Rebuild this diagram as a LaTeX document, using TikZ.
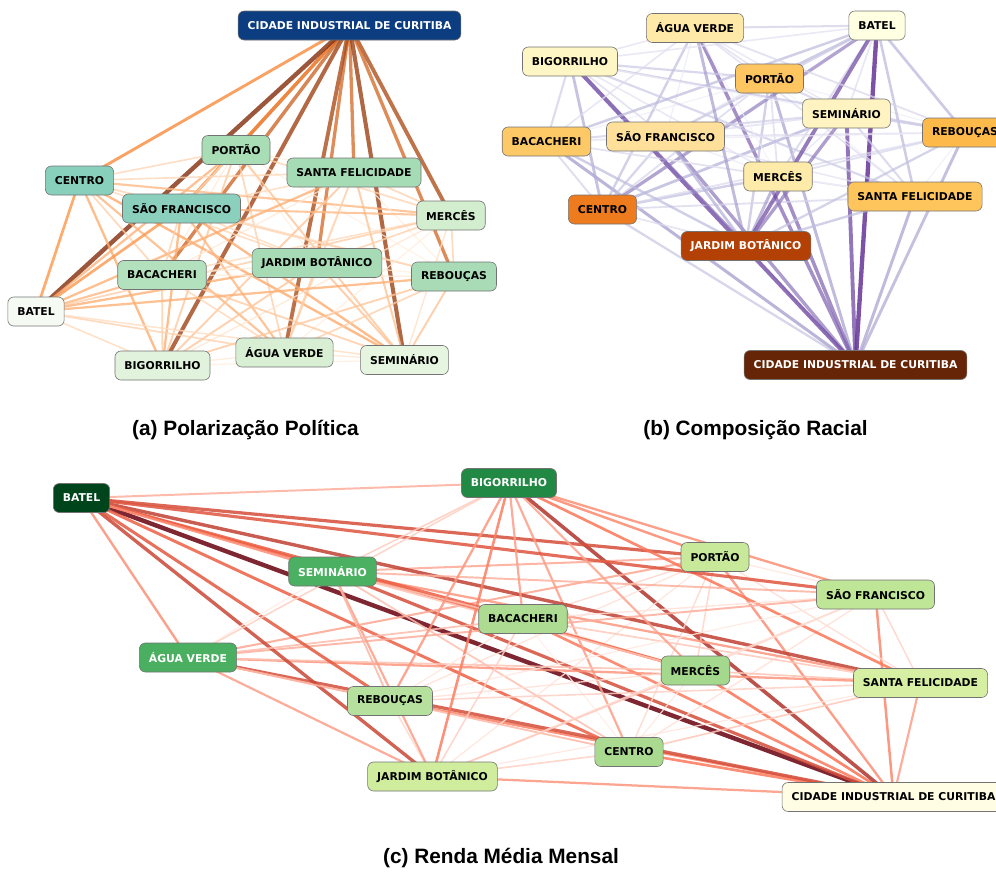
\documentclass[tikz,border=0pt]{standalone}
\usepackage{fontspec}
\setmainfont{DejaVu Sans}
\newfontfamily\titlefont{Liberation Sans}
\usetikzlibrary{backgrounds}
% edge colour maps (low, mid, high)
\definecolor{alow}{HTML}{FFF0E0}\definecolor{amid}{HTML}{FD8D3C}\definecolor{ahigh}{HTML}{7F2704}
\definecolor{blow}{HTML}{F2F0F8}\definecolor{bmid}{HTML}{B0AED6}\definecolor{bhigh}{HTML}{3F007D}
\definecolor{clow}{HTML}{FFEDE6}\definecolor{cmid}{HTML}{FB6A4A}\definecolor{chigh}{HTML}{67000D}
\tikzset{
  bairro/.style={draw=black!55, line width=0.6pt, rounded corners=6pt, minimum height=29pt,
    inner xsep=9.5pt, font=\fontsize{10.8}{12}\selectfont\bfseries},
  aresta/.style={line cap=round},
  legenda/.style={font=\titlefont\fontsize{20.8}{24}\selectfont\bfseries},
}
\newcommand{\arestas}[3]{%
  \foreach \i in {0,...,11}{%
    \pgfmathtruncatemacro\ii{\i+1}%
    \foreach \j in {\ii,...,12}{%
      \pgfmathsetmacro\d{abs(#2[\i]-#2[\j])}%
      \ifdim\d pt<0.5pt
        \pgfmathtruncatemacro\p{200*\d}\colorlet{ec}{#1mid!\p!#1low}%
      \else
        \pgfmathtruncatemacro\p{200*\d-100}\colorlet{ec}{#1high!\p!#1mid}%
      \fi
      \pgfmathsetmacro\w{1.2+3.2*\d}%
      \draw[aresta, draw=ec, draw opacity=#3, line width=\w pt] (#1\i.center) -- (#1\j.center);
    }}}
\begin{document}
\begin{tikzpicture}[x=1pt,y=-1pt]
\useasboundingbox (0,0) rectangle (996,871);

% (a) Polarizacao Politica
\foreach \k/\x/\y/\f/\tc/\txt in {
  0/349.5/25.5/0B3D80/white/CIDADE INDUSTRIAL DE CURITIBA,
  1/236/150/A9DDB6/black/PORTÃO,
  2/79.5/180.5/88CFBC/black/CENTRO,
  3/354/172.5/A5DBB5/black/SANTA FELICIDADE,
  4/181.5/208.5/8BD0BD/black/SÃO FRANCISCO,
  5/451/215.5/D3EECE/black/MERCÊS,
  6/317/263/A6DBB5/black/JARDIM BOTÂNICO,
  7/162/275/B3E1BD/black/BACACHERI,
  8/454/276.5/A9DCB6/black/REBOUÇAS,
  9/36/311.5/F5FBF2/black/BATEL,
  10/162.5/365.5/E1F3DD/black/BIGORRILHO,
  11/284.5/352.5/D8EFD3/black/ÁGUA VERDE,
  12/404.5/360/E5F5E0/black/SEMINÁRIO}{
  \definecolor{nf}{HTML}{\f}
  \node[bairro, fill=nf, text=\tc] (a\k) at (\x,\y) {\txt};
}
\begin{pgfonlayer}{background}
  \arestas{a}{{1.0,0.33,0.47,0.34,0.46,0.18,0.34,0.30,0.33,0.0,0.12,0.16,0.10}}{0.78}
\end{pgfonlayer}
\node[legenda] (tituloa) at (245.5,430) {(a) Polarização Política};

% (b) Composicao Racial
\foreach \k/\x/\y/\f/\tc/\txt in {
  0/855.5/365/662506/white/CIDADE INDUSTRIAL DE CURITIBA,
  1/769.5/78.5/FEC561/black/PORTÃO,
  2/602.5/209.5/EE7C1E/black/CENTRO,
  3/915/196.5/FEC55C/black/SANTA FELICIDADE,
  4/665.5/136.5/FEE09A/black/SÃO FRANCISCO,
  5/778/176.5/FEEAA9/black/MERCÊS,
  6/746/246/B34105/white/JARDIM BOTÂNICO,
  7/546.5/141.5/FDC967/black/BACACHERI,
  8/965/132.5/FDBA4A/black/REBOUÇAS,
  9/877/25.5/FFFFE2/black/BATEL,
  10/570/61.5/FFF6C5/black/BIGORRILHO,
  11/695/28/FEE9A8/black/ÁGUA VERDE,
  12/846.5/113.5/FFF4C1/black/SEMINÁRIO}{
  \definecolor{nf}{HTML}{\f}
  \node[bairro, fill=nf, text=\tc] (b\k) at (\x,\y) {\txt};
}
\begin{pgfonlayer}{background}
  \arestas{b}{{1.0,0.45,0.66,0.45,0.33,0.27,0.83,0.43,0.48,0.02,0.15,0.28,0.17}}{0.7}
\end{pgfonlayer}
\node[legenda] (titulob) at (755.5,430) {(b) Composição Racial};

% (c) Renda Media Mensal
\foreach \k/\x/\y/\f/\tc/\txt in {
  0/893.5/797/FFFDE4/black/CIDADE INDUSTRIAL DE CURITIBA,
  1/715/557/C8E99A/black/PORTÃO,
  2/629/752/A9DA8F/black/CENTRO,
  3/920.5/683/D6EFA2/black/SANTA FELICIDADE,
  4/875.5/594.5/BFE596/black/SÃO FRANCISCO,
  5/695.5/670.5/A4D88C/black/MERCÊS,
  6/432.5/776.5/D0ED9E/black/JARDIM BOTÂNICO,
  7/523/619/ACDB91/black/BACACHERI,
  8/390/701/B5E09D/black/REBOUÇAS,
  9/81.5/498/00441B/white/BATEL,
  10/509/483/218944/white/BIGORRILHO,
  11/188/657.5/4AAF61/white/ÁGUA VERDE,
  12/332.5/571.5/4BB062/white/SEMINÁRIO}{
  \definecolor{nf}{HTML}{\f}
  \node[bairro, fill=nf, text=\tc] (c\k) at (\x,\y) {\txt};
}
\begin{pgfonlayer}{background}
  \arestas{c}{{0.0,0.37,0.45,0.30,0.40,0.47,0.33,0.45,0.42,1.0,0.76,0.64,0.63}}{0.85}
\end{pgfonlayer}
\node[legenda] (tituloc) at (501,858) {(c) Renda Média Mensal};
\end{tikzpicture}
\end{document}
